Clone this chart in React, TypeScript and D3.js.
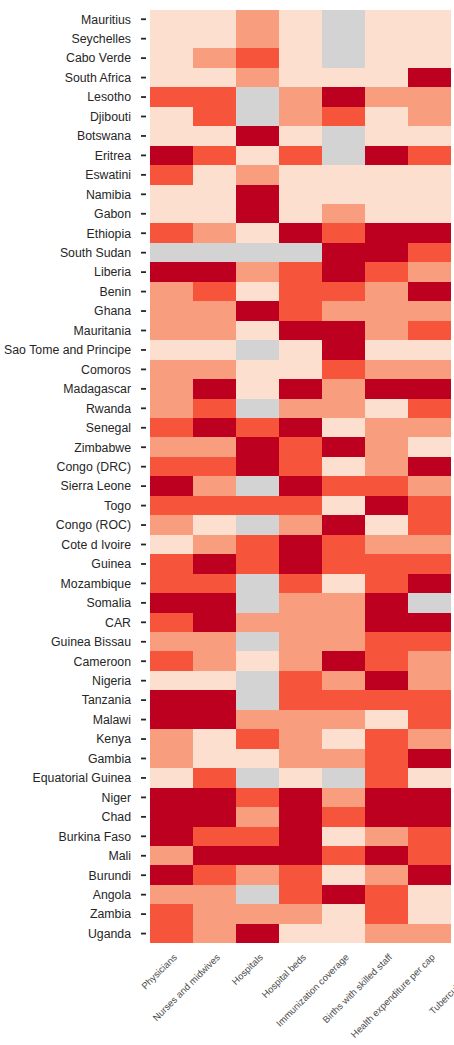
import React from "react";
import * as d3 from "d3";

const countries = [
  "Mauritius", "Seychelles", "Cabo Verde", "South Africa", "Lesotho", "Djibouti", "Botswana", "Eritrea",
  "Eswatini", "Namibia", "Gabon", "Ethiopia", "South Sudan", "Liberia", "Benin", "Ghana",
  "Mauritania", "Sao Tome and Principe", "Comoros", "Madagascar", "Rwanda", "Senegal", "Zimbabwe", "Congo (DRC)",
  "Sierra Leone", "Togo", "Congo (ROC)", "Cote d Ivoire", "Guinea", "Mozambique", "Somalia", "CAR", "Guinea Bissau",
  "Cameroon", "Nigeria", "Tanzania", "Malawi", "Kenya", "Gambia", "Equatorial Guinea", "Niger",
  "Chad", "Burkina Faso", "Mali", "Burundi", "Angola", "Zambia", "Uganda",
];

const indicators = [
  "Physicians", "Nurses and midwives", "Hospitals", "Hospital beds", "Immunization coverage",
  "Births with skilled staff", "Health expenditure per cap", "Tuberculosis cases",
];

// levels: 0..3 (quartile class), null = missing
const N = null;
const levels: (number | null)[][] = [
  [0, 0, 1, 0, N, 0, 0],
  [0, 0, 1, 0, N, 0, 0],
  [0, 1, 2, 0, N, 0, 0],
  [0, 0, 1, 0, 0, 0, 3],
  [2, 2, N, 1, 3, 1, 1],
  [0, 2, N, 1, 2, 0, 1],
  [0, 0, 3, 0, N, 0, 0],
  [3, 2, 0, 2, N, 3, 2],
  [2, 0, 1, 0, 0, 0, 0],
  [0, 0, 3, 0, 0, 0, 0],
  [0, 0, 3, 0, 1, 0, 0],
  [2, 1, 0, 3, 2, 3, 3],
  [N, N, N, N, 3, 3, 2],
  [3, 3, 1, 2, 3, 2, 1],
  [1, 2, 0, 2, 2, 1, 3],
  [1, 1, 3, 2, 1, 1, 1],
  [1, 1, 0, 3, 3, 1, 2],
  [0, 0, N, 0, 3, 0, 0],
  [1, 1, 0, 0, 2, 1, 1],
  [1, 3, 0, 3, 1, 3, 3],
  [1, 2, N, 1, 1, 0, 2],
  [2, 3, 2, 3, 0, 1, 1],
  [1, 1, 3, 2, 3, 1, 0],
  [2, 2, 3, 2, 0, 1, 3],
  [3, 1, N, 3, 2, 2, 1],
  [2, 2, 2, 2, 0, 3, 2],
  [1, 0, N, 1, 3, 0, 2],
  [0, 1, 2, 3, 2, 1, 1],
  [2, 3, 2, 3, 2, 2, 2],
  [2, 2, N, 2, 0, 2, 3],
  [3, 3, N, 1, 1, 3, N],
  [2, 3, 1, 1, 1, 3, 3],
  [1, 1, N, 1, 1, 2, 2],
  [2, 1, 0, 1, 3, 2, 1],
  [0, 0, N, 2, 1, 3, 1],
  [3, 3, N, 2, 2, 2, 2],
  [3, 3, 1, 1, 1, 0, 2],
  [1, 0, 2, 1, 0, 2, 1],
  [1, 0, 0, 1, 1, 2, 3],
  [0, 2, N, 0, N, 2, 0],
  [3, 3, 2, 3, 1, 3, 3],
  [3, 3, 1, 3, 2, 3, 3],
  [3, 2, 2, 3, 0, 1, 2],
  [1, 3, 3, 3, 2, 3, 2],
  [3, 2, 1, 2, 0, 1, 3],
  [1, 1, N, 2, 3, 2, 0],
  [2, 1, 1, 1, 0, 2, 0],
  [2, 1, 3, 0, 0, 1, 1],
];

const palette = ["#fcdfcf", "#f89d7e", "#f6553b", "#be0020"];
const missingColor = "#d3d3d3";

export default function App() {
  const width = 454;
  const height = 1045;
  const left = 150;
  const top = 9.5;
  const cellW = 43;
  const bottom = 943.3;
  const dataCols = levels[0].length;

  const x = d3.scaleBand<string>().domain(indicators).range([left, left + cellW * indicators.length]);
  const y = d3.scaleBand<string>().domain(countries).range([top, bottom]);
  const color = d3.scaleOrdinal<number, string>().domain([0, 1, 2, 3]).range(palette);

  const cells: React.ReactNode[] = [];
  levels.forEach((row, i) => {
    row.forEach((v, j) => {
      cells.push(
        <rect
          key={`${i}-${j}`}
          x={x(indicators[j])}
          y={y(countries[i])}
          width={x.bandwidth()}
          height={y.bandwidth()}
          fill={v === null ? missingColor : color(v)}
        />
      );
    });
  });

  return (
    <svg
      width={width}
      height={height}
      style={{ position: "absolute", left: 0, top: 0, background: "#fff" }}
      fontFamily="'Liberation Sans', Arial, sans-serif"
    >
      <g shapeRendering="crispEdges">{cells}</g>
      <g>
        {countries.map((c) => {
          const cy = (y(c) as number) + y.bandwidth() / 2;
          return (
            <g key={c}>
              <line x1={141} x2={146} y1={cy} y2={cy} stroke="#262626" strokeWidth={1.8} />
              <text x={131} y={cy} dy="0.35em" textAnchor="end" fontSize={12.3} fill="#262626">
                {c}
              </text>
            </g>
          );
        })}
      </g>
      <g>
        {indicators.map((ind, j) => {
          const cx = (x(ind) as number) + x.bandwidth() / 2 + (j >= dataCols ? 12 : 0);
          return (
            <text
              key={ind}
              transform={`translate(${cx + 6},${bottom + 14.5}) rotate(-45)`}
              textAnchor="end"
              fontSize={9.5}
              fill="#4d4d4d"
            >
              {ind}
            </text>
          );
        })}
      </g>
    </svg>
  );
}
